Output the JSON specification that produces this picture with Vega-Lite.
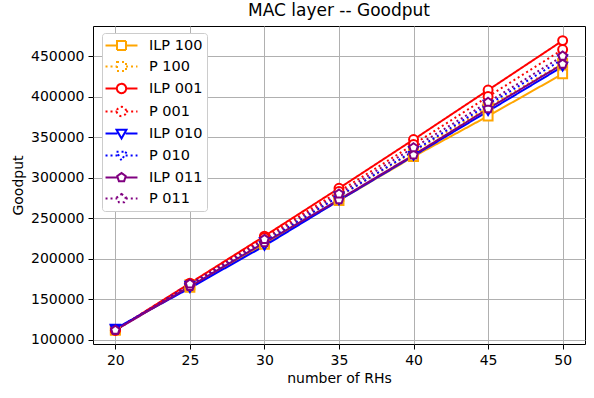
{
  "$schema": "https://vega.github.io/schema/vega-lite/v6.json",
  "width": 492,
  "height": 318,
  "autosize": {"type": "none"},
  "padding": {"left": 93, "top": 26, "right": 9, "bottom": 54},
  "background": "white",
  "title": {"text": "MAC layer -- Goodput", "font": "DejaVu Sans", "fontSize": 17, "fontWeight": "normal", "color": "black", "offset": 6},
  "config": {
    "font": "DejaVu Sans",
    "view": {"stroke": "black", "strokeWidth": 1},
    "axis": {
      "labelFont": "DejaVu Sans", "labelFontSize": 14, "labelColor": "black",
      "titleFont": "DejaVu Sans", "titleFontSize": 14, "titleFontWeight": "normal", "titleColor": "black",
      "gridColor": "#b0b0b0", "gridWidth": 1, "gridOpacity": 1,
      "tickColor": "black", "tickSize": 5, "domain": false, "labelPadding": 4
    }
  },
  "data": {"values": [
    {"series": "ILP 100", "x": 20, "y": 113000}, {"series": "ILP 100", "x": 25, "y": 165000}, {"series": "ILP 100", "x": 30, "y": 218000}, {"series": "ILP 100", "x": 35, "y": 272000}, {"series": "ILP 100", "x": 40, "y": 326000}, {"series": "ILP 100", "x": 45, "y": 376000}, {"series": "ILP 100", "x": 50, "y": 428000},
    {"series": "P 100", "x": 20, "y": 112000}, {"series": "P 100", "x": 25, "y": 168000}, {"series": "P 100", "x": 30, "y": 222000}, {"series": "P 100", "x": 35, "y": 277000}, {"series": "P 100", "x": 40, "y": 332000}, {"series": "P 100", "x": 45, "y": 387000}, {"series": "P 100", "x": 50, "y": 441000},
    {"series": "ILP 001", "x": 20, "y": 112000}, {"series": "ILP 001", "x": 25, "y": 170000}, {"series": "ILP 001", "x": 30, "y": 228000}, {"series": "ILP 001", "x": 35, "y": 287000}, {"series": "ILP 001", "x": 40, "y": 347000}, {"series": "ILP 001", "x": 45, "y": 408000}, {"series": "ILP 001", "x": 50, "y": 469000},
    {"series": "P 001", "x": 20, "y": 112000}, {"series": "P 001", "x": 25, "y": 169000}, {"series": "P 001", "x": 30, "y": 226000}, {"series": "P 001", "x": 35, "y": 283000}, {"series": "P 001", "x": 40, "y": 341000}, {"series": "P 001", "x": 45, "y": 400000}, {"series": "P 001", "x": 50, "y": 458000},
    {"series": "ILP 010", "x": 20, "y": 114000}, {"series": "ILP 010", "x": 25, "y": 164000}, {"series": "ILP 010", "x": 30, "y": 216000}, {"series": "ILP 010", "x": 35, "y": 272000}, {"series": "ILP 010", "x": 40, "y": 327000}, {"series": "ILP 010", "x": 45, "y": 382000}, {"series": "ILP 010", "x": 50, "y": 437000},
    {"series": "P 010", "x": 20, "y": 113000}, {"series": "P 010", "x": 25, "y": 167000}, {"series": "P 010", "x": 30, "y": 221000}, {"series": "P 010", "x": 35, "y": 277000}, {"series": "P 010", "x": 40, "y": 333000}, {"series": "P 010", "x": 45, "y": 390000}, {"series": "P 010", "x": 50, "y": 446000},
    {"series": "ILP 011", "x": 20, "y": 112000}, {"series": "ILP 011", "x": 25, "y": 166000}, {"series": "ILP 011", "x": 30, "y": 220000}, {"series": "ILP 011", "x": 35, "y": 273000}, {"series": "ILP 011", "x": 40, "y": 328000}, {"series": "ILP 011", "x": 45, "y": 385000}, {"series": "ILP 011", "x": 50, "y": 440000},
    {"series": "P 011", "x": 20, "y": 112000}, {"series": "P 011", "x": 25, "y": 169000}, {"series": "P 011", "x": 30, "y": 224000}, {"series": "P 011", "x": 35, "y": 280000}, {"series": "P 011", "x": 40, "y": 337000}, {"series": "P 011", "x": 45, "y": 393000}, {"series": "P 011", "x": 50, "y": 450000}
  ]},
  "encoding": {
    "x": {"field": "x", "type": "quantitative", "scale": {"domain": [18.5, 51.5], "nice": false, "zero": false},
          "axis": {"values": [20, 25, 30, 35, 40, 45, 50], "title": "number of RHs", "titlePadding": 4}},
    "y": {"field": "y", "type": "quantitative", "scale": {"domain": [95000, 487000], "nice": false, "zero": false},
          "axis": {"values": [100000, 150000, 200000, 250000, 300000, 350000, 400000, 450000], "format": "d", "title": "Goodput", "titleX": -68}}
  },
  "layer": [
    {
      "mark": {"type": "line", "strokeWidth": 2},
      "encoding": {
        "color": {"field": "series", "type": "nominal", "legend": null,
                  "scale": {"domain": ["ILP 100", "P 100", "ILP 001", "P 001", "ILP 010", "P 010", "ILP 011", "P 011"],
                            "range": ["#FFA500", "#FFA500", "#FF0000", "#FF0000", "#0000FF", "#0000FF", "#800080", "#800080"]}},
        "strokeDash": {"field": "series", "type": "nominal", "legend": null,
                  "scale": {"domain": ["ILP 100", "P 100", "ILP 001", "P 001", "ILP 010", "P 010", "ILP 011", "P 011"],
                            "range": [[1, 0], [2, 3], [1, 0], [2, 3], [1, 0], [2, 3], [1, 0], [2, 3]]}}
      }
    },
    {
      "mark": {"type": "point", "filled": false, "fill": "white", "fillOpacity": 1, "opacity": 1, "strokeWidth": 2, "size": 80},
      "encoding": {
        "color": {"field": "series", "type": "nominal", "legend": null,
                  "scale": {"domain": ["ILP 100", "P 100", "ILP 001", "P 001", "ILP 010", "P 010", "ILP 011", "P 011"],
                            "range": ["#FFA500", "#FFA500", "#FF0000", "#FF0000", "#0000FF", "#0000FF", "#800080", "#800080"]}},
        "shape": {"field": "series", "type": "nominal", "legend": null,
                  "scale": {"domain": ["ILP 100", "P 100", "ILP 001", "P 001", "ILP 010", "P 010", "ILP 011", "P 011"],
                            "range": ["square", "square", "circle", "circle", "triangle-down", "triangle-down",
                                      "M0,-1L0.951,-0.309L0.588,0.809L-0.588,0.809L-0.951,-0.309Z", "M0,-1L0.951,-0.309L0.588,0.809L-0.588,0.809L-0.951,-0.309Z"]}}
      }
    },
    {
      "transform": [{"filter": "datum.x < 0"}],
      "mark": {"type": "point", "filled": false, "strokeWidth": 2, "opacity": 1},
      "encoding": {
        "color": {"field": "series", "type": "nominal",
                  "scale": {"domain": ["ILP 100", "P 100", "ILP 001", "P 001", "ILP 010", "P 010", "ILP 011", "P 011"],
                            "range": ["#FFA500", "#FFA500", "#FF0000", "#FF0000", "#0000FF", "#0000FF", "#800080", "#800080"]},
                  "legend": {"title": null, "orient": "none", "legendX": 9, "legendY": 7, "symbolSize": 225, "symbolStrokeWidth": 2,
                             "symbolFillColor": "white", "symbolOffset": 7, "labelFont": "DejaVu Sans", "labelFontSize": 14.5, "labelColor": "black",
                             "rowPadding": 4, "labelOffset": 19, "fillColor": "white", "strokeColor": "#cccccc", "cornerRadius": 3,
                             "padding": 4, "symbolOpacity": 1, "labelExpr": "datum.label + '\u00a0\u00a0'"}},
        "shape": {"field": "series", "type": "nominal",
                  "scale": {"domain": ["ILP 100", "P 100", "ILP 001", "P 001", "ILP 010", "P 010", "ILP 011", "P 011"],
                            "range": ["M-2.13,0H-0.6M0.6,0H2.13M-0.6,-0.6H0.6V0.6H-0.6Z", "M-2.13,0H-0.6M0.6,0H2.13M-0.6,-0.6H0.6V0.6H-0.6Z",
                                      "M-2.13,0H-0.62M0.62,0H2.13M-0.62,0A0.62,0.62,0,1,0,0.62,0A0.62,0.62,0,1,0,-0.62,0Z", "M-2.13,0H-0.62M0.62,0H2.13M-0.62,0A0.62,0.62,0,1,0,0.62,0A0.62,0.62,0,1,0,-0.62,0Z",
                                      "M-2.13,0H-0.55M0.55,0H2.13M-0.66,-0.5L0.66,-0.5L0,0.66Z", "M-2.13,0H-0.55M0.55,0H2.13M-0.66,-0.5L0.66,-0.5L0,0.66Z",
                                      "M-2.13,0H-0.57M0.57,0H2.13M0,-0.6L0.57,-0.185L0.353,0.485L-0.353,0.485L-0.57,-0.185Z", "M-2.13,0H-0.57M0.57,0H2.13M0,-0.6L0.57,-0.185L0.353,0.485L-0.353,0.485L-0.57,-0.185Z"]}},
        "strokeDash": {"field": "series", "type": "nominal",
                  "scale": {"domain": ["ILP 100", "P 100", "ILP 001", "P 001", "ILP 010", "P 010", "ILP 011", "P 011"],
                            "range": [[1, 0], [2, 3], [1, 0], [2, 3], [1, 0], [2, 3], [1, 0], [2, 3]]}}
      }
    }
  ],
  "resolve": {"scale": {"color": "independent", "shape": "independent", "strokeDash": "independent"}}
}
